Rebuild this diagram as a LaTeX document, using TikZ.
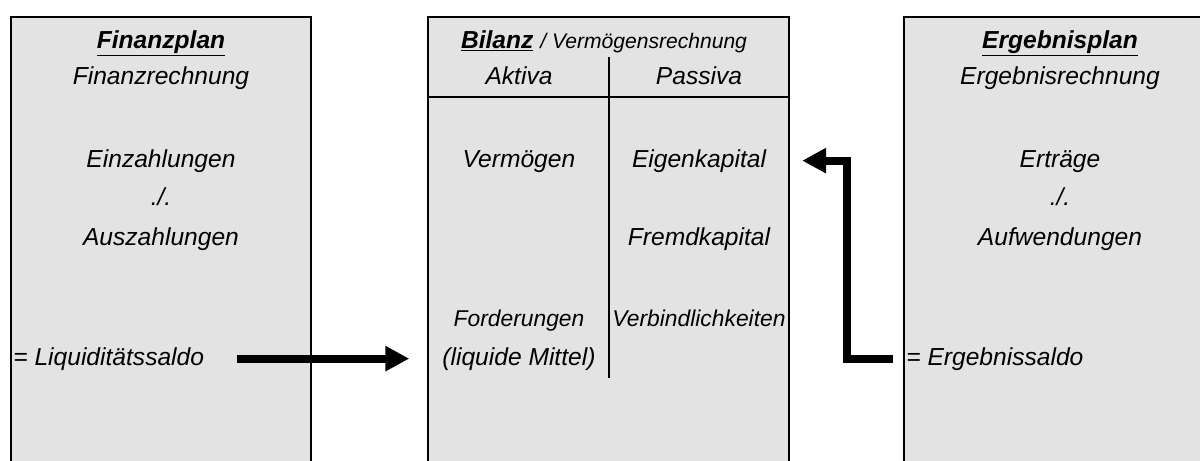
\documentclass[tikz,border=0pt]{standalone}
\usepackage{fontspec}
\setmainfont{Liberation Sans}
\usetikzlibrary{arrows.meta}
\definecolor{boxgray}{HTML}{E3E3E3}

\begin{document}
\begin{tikzpicture}[x=0.02cm,y=-0.02cm,
	txt/.style={font=\fontsize{14}{17}\selectfont\itshape, inner sep=0pt, anchor=base},
	smalltxt/.style={txt, font=\fontsize{13}{16}\selectfont\itshape},
	frame/.style={draw=black, line width=1.3pt, fill=boxgray},
	flow/.style={line width=4.5pt, -{Triangle[length=13.6pt,width=13.6pt]}}]
	\useasboundingbox (0,0) rectangle (1200,460);
	\clip (0,0) rectangle (1200,460);

	%boxes (open at the bottom)
	\filldraw[frame] (11,480)--(11,17)--(311,17)--(311,480);		%Finanzplan
	\filldraw[frame] (428,480)--(428,17)--(789,17)--(789,480);		%Bilanz
	\filldraw[frame] (904,480)--(904,17)--(1220,17)--(1220,480);	%Ergebnisplan

	%T-account
	\draw[line width=1.6pt] (428,97)--(789,97);		%horizontal line
	\draw[line width=1.6pt] (609,57)--(609,378);	%vertical line

	%Finanzplan
	\node[txt] (fplan) at (161,48) {\textbf{\underline{Finanzplan}}};
	\node[txt] (frech) at (161,84) {Finanzrechnung};
		\node[txt] (einz) at (161,167) {Einzahlungen};
		\node[txt] (fminus) at (161,205) {./.};
		\node[txt] (ausz) at (161,245) {Auszahlungen};
	\node[txt, anchor=base west] (liq) at (13,365) {= Liquiditätssaldo};

	%Bilanz
	\node[txt] (bilanz) at (604,48) {\textbf{\underline{Bilanz}} {\fontsize{12}{14}\selectfont / Vermögensrechnung}};
	\node[txt] (aktiva) at (519,84) {Aktiva};
	\node[txt] (passiva) at (699,84) {Passiva};
		\node[txt] (verm) at (519,167) {Vermögen};
		\node[txt] (eigen) at (699,167) {Eigenkapital};
		\node[txt] (fremd) at (699,245) {Fremdkapital};
		\node[smalltxt] (ford) at (519,326) {Forderungen};
		\node[smalltxt] (verb) at (699,326) {Verbindlichkeiten};
		\node[txt] (mittel) at (519,365) {(liquide Mittel)};

	%Ergebnisplan
	\node[txt] (eplan) at (1060,48) {\textbf{\underline{Ergebnisplan}}};
	\node[txt] (erech) at (1060,84) {Ergebnisrechnung};
		\node[txt] (ertr) at (1060,167) {Erträge};
		\node[txt] (eminus) at (1060,205) {./.};
		\node[txt] (aufw) at (1060,245) {Aufwendungen};
	\node[txt, anchor=base west] (esaldo) at (906,365) {= Ergebnissaldo};

	%arrows
	\draw[flow, shorten <=18.4pt, shorten >=18.7pt] (liq.east) -- (liq.east -| mittel.west);	%saldo -> liquide Mittel
	\draw[flow, shorten <=7.4pt, shorten >=20.4pt] (esaldo.west) -- ++(-59,0) |- (eigen.east);	%saldo -> Eigenkapital
\end{tikzpicture}
\end{document}
